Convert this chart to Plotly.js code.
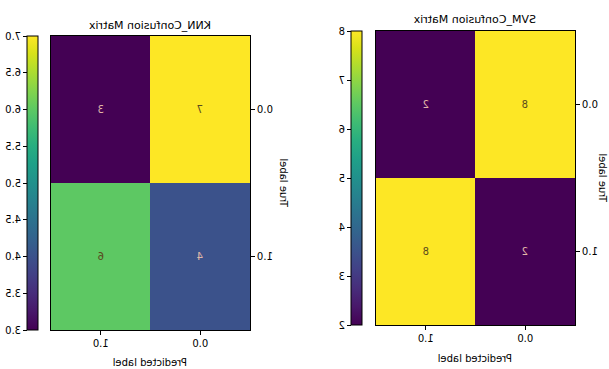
<!DOCTYPE html>
<html>
<head>
<meta charset="utf-8">
<script src="https://cdn.plot.ly/plotly-3.0.1.min.js"></script>
<style>
html,body{margin:0;padding:0;background:#fff;}
#wrap{width:609px;height:369px;transform:scaleX(-1);transform-origin:center;}
</style>
</head>
<body>
<div id="wrap"><div id="chart" style="width:609px;height:369px;"></div></div>
<script>
const classLabels = ['0.0', '1.0'];
const svmValues = [[8, 2], [2, 8]];
const knnValues = [[7, 3], [4, 6]];
const svmTitle = 'SVM_Confusion Matrix';
const knnTitle = 'KNN_Confusion Matrix';
const xTitle = 'Predicted label';
const yTitle = 'True label';
const svmTicks = [2, 3, 4, 5, 6, 7, 8];
const knnTicks = [3.0, 3.5, 4.0, 4.5, 5.0, 5.5, 6.0, 6.5, 7.0];

const W = 609, H = 369;
const FONT = 'DejaVu Sans, sans-serif';
const px = v => v / W;
const py = v => 1 - v / H;

function cb(x0, top, bottom, ticks, fmt) {
  return {
    thickness: 11, thicknessmode: 'pixels',
    len: (bottom - top) / H, lenmode: 'fraction',
    y: py((top + bottom) / 2), yanchor: 'middle',
    x: px(x0), xanchor: 'left', xpad: 0, ypad: 0,
    outlinewidth: 1, outlinecolor: '#000',
    ticks: 'outside', ticklen: 4, tickcolor: '#000',
    tickvals: ticks, ticktext: ticks.map(v => v.toFixed(fmt)),
    tickfont: {family: FONT, size: 10, color: '#000'}
  };
}

const traces = [
  {type: 'heatmap', x: classLabels, y: classLabels, z: svmValues, colorscale: 'Viridis',
   zmin: 2, zmax: 8, xaxis: 'x', yaxis: 'y', hoverinfo: 'none',
   colorbar: cb(247, 31, 325, svmTicks, 0)},
  {type: 'heatmap', x: classLabels, y: classLabels, z: knnValues, colorscale: 'Viridis',
   zmin: 3, zmax: 7, xaxis: 'x2', yaxis: 'y2', hoverinfo: 'none',
   colorbar: cb(571, 36, 330, knnTicks, 1)}
];

function ax(domain, anchor, reversed) {
  const a = {
    domain: domain, anchor: anchor, type: 'category',
    showgrid: false, zeroline: false,
    showline: true, linecolor: '#000', linewidth: 1, mirror: true,
    ticks: 'outside', ticklen: 4, tickcolor: '#000',
    tickfont: {family: FONT, size: 10, color: '#000'},
    fixedrange: true
  };
  if (reversed) a.autorange = 'reversed';
  return a;
}

const annotations = [];
function cellText(z, xr, yr) {
  const zmin = Math.min(...z.flat()), zmax = Math.max(...z.flat());
  const thr = (zmin + zmax) / 2;
  z.forEach((row, i) => row.forEach((v, j) => {
    annotations.push({
      x: classLabels[j], y: classLabels[i], xref: xr, yref: yr,
      text: String(v), showarrow: false,
      font: {family: FONT, size: 10, color: v < thr ? '#e0b8a8' : '#5a4a1e'}
    });
  }));
}
cellText(svmValues, 'x', 'y');
cellText(knnValues, 'x2', 'y2');

function label(text, x, y, angle, size) {
  annotations.push({text: text, x: px(x), y: py(y), xref: 'paper', yref: 'paper',
    showarrow: false, textangle: angle || 0, xanchor: 'center', yanchor: 'middle',
    font: {family: FONT, size: size || 10, color: '#000'}});
}
label(svmTitle, 134, 20, 0, 11);
label(knnTitle, 459, 25, 0, 11);
label(xTitle, 134, 358);
label(xTitle, 459, 362);
label(yTitle, 7, 178, -90);
label(yTitle, 326, 183, -90);

const layout = {
  width: W, height: H,
  margin: {l: 0, r: 0, t: 0, b: 0},
  paper_bgcolor: '#fff', plot_bgcolor: '#fff',
  showlegend: false,
  xaxis: ax([px(34), px(233)], 'y'),
  yaxis: ax([py(325), py(31)], 'x', true),
  xaxis2: ax([px(359), px(558)], 'y2'),
  yaxis2: ax([py(330), py(36)], 'x2', true),
  annotations: annotations
};

Plotly.newPlot('chart', traces, layout, {displayModeBar: false, staticPlot: true});
</script>
</body>
</html>
